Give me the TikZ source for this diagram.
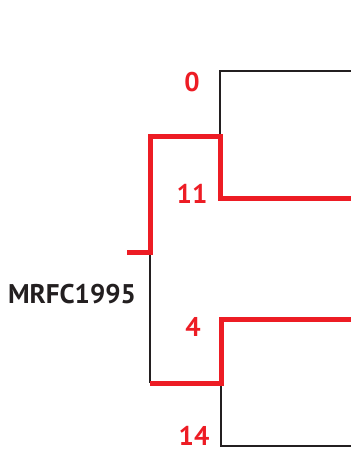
\documentclass[tikz,border=0pt]{standalone}
\usepackage{fontspec}
\setmainfont{PT Sans}
\definecolor{tred}{HTML}{ED1C24}
\definecolor{tblk}{HTML}{231F20}
\begin{document}
\begin{tikzpicture}[x=1pt,y=-1pt,
  blkline/.style={draw=tblk,line width=2.5pt},
  redline/.style={draw=tred,line width=5pt},
  lablabel/.style={text=tred,font=\bfseries\fontsize{27}{27}\selectfont,inner sep=0pt},
  namelabel/.style={text=tblk,font=\bfseries\fontsize{27}{27}\selectfont,inner sep=0pt}]
\useasboundingbox (0,0) rectangle (351,453);
% tree coordinates
\coordinate (root) at (127,252);
\coordinate (r) at (150,252);
\coordinate (ra) at (150,136);
\coordinate (rb) at (150,383);
\coordinate (a) at (220,136);
\coordinate (a0) at (220,71);
\coordinate (a11) at (220,198);
\coordinate (b) at (221,383);
\coordinate (b4) at (221,319);
\coordinate (b14) at (221,446);
\coordinate (t0) at (351,71);
\coordinate (t11) at (351,198);
\coordinate (t4) at (351,319);
\coordinate (t14) at (351,446);
% black branches
\draw[blkline] (a) -- (a0) -- (t0);
\draw[blkline] (r) -- (rb);
\draw[blkline] (b) -- (b14) -- (t14);
% red branches
\draw[redline] (t11) -- (a11) -- (a) -- (ra) -- (r) -- (root);
\draw[redline] (t4) -- (b4) -- (b) -- (rb);
% labels
\node[lablabel] (l0) at (192,82) {0};
\node[lablabel] (l11) at (192,194) {11};
\node[lablabel] (l4) at (193,327) {4};
\node[lablabel] (l14) at (194,436) {14};
\node[namelabel] (mrfc) at (72,294) {MRFC1995};
\end{tikzpicture}
\end{document}
